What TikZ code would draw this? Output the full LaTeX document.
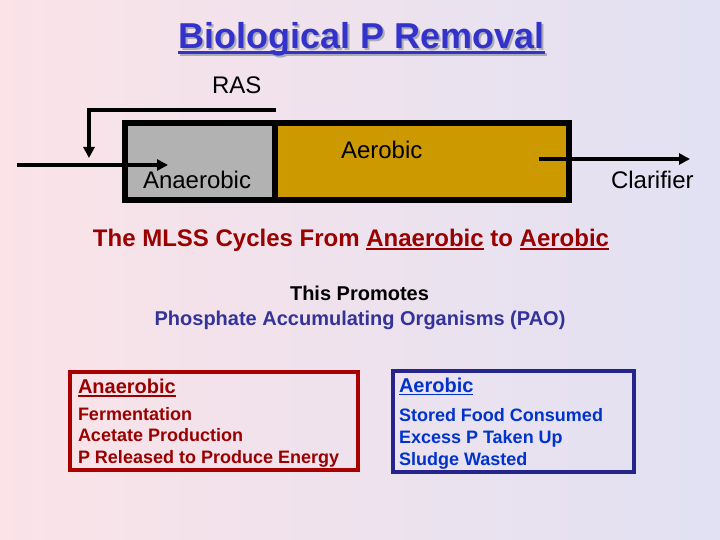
\documentclass[tikz,border=0pt]{standalone}
\usepackage{fontspec}
\setmainfont{Liberation Sans}
\usepackage{tikz}
\usetikzlibrary{arrows.meta,positioning}
\definecolor{bpleft}{HTML}{FBE3E8}
\definecolor{bpright}{HTML}{E1E1F3}
\definecolor{bptitle}{HTML}{3333CC}
\definecolor{bpshadow}{HTML}{ABABB4}
\definecolor{bpgrey}{HTML}{B2B2B2}
\definecolor{bpgold}{HTML}{CC9900}
\definecolor{bpred}{HTML}{990000}
\definecolor{bpredframe}{HTML}{A80000}
\definecolor{bpnavy}{HTML}{333399}
\definecolor{bpblue}{HTML}{0033CC}
\definecolor{bpframe}{HTML}{24248A}
% underline that sits just under the baseline (crosses descenders)
\newcommand{\ulword}[1]{\setbox0\hbox{#1}\rlap{\rule[-0.17em]{\wd0}{0.09em}}\box0\relax}

\begin{document}
\begin{tikzpicture}[x=1pt,y=-1pt,
  every node/.style={inner sep=0pt,outer sep=0pt},
  ttl/.style={font=\fontsize{36}{42}\selectfont\bfseries,anchor=base},
  lbl/.style={font=\fontsize{24}{29}\selectfont,anchor=base west},
  msg/.style={font=\fontsize{24}{29}\selectfont\bfseries,anchor=base},
  pao/.style={font=\fontsize{20}{24.5}\selectfont\bfseries,anchor=base},
  hdr/.style={font=\fontsize{20}{24}\selectfont\bfseries,anchor=base west},
  lst/.style={font=\fontsize{18}{21.7}\selectfont\bfseries,anchor=base west,align=left},
  tank/.style={draw=black,line width=5.5pt,minimum height=77pt,anchor=north west},
  frame/.style={line width=4pt,anchor=north west},
  pipe/.style={line width=4pt,-{Triangle[length=11pt,width=11pt]}}]
\useasboundingbox (0,0) rectangle (720,540);
\shade[left color=bpleft,right color=bpright] (0,0) rectangle (720,540);

% title with its shadow
\node[ttl,text=bpshadow] (titleshadow) at (363.5,50.3) {\ulword{Biological P Removal}};
\node[ttl,text=bptitle] (title) at (361.5,48.3) {\ulword{Biological P Removal}};

% the basin
\node[tank,fill=bpgrey,minimum width=150pt] (anatank) at (125,123) {};
\node[tank,fill=bpgold,minimum width=294pt] (aertank) at (275,123) {};

\node[lbl] (raslbl) at (212,93.3) {RAS};
\node[lbl] (analbl) at (143,188.3) {Anaerobic};
\node[lbl] (aerlbl) at (341,158.3) {Aerobic};
\node[lbl] (clarlbl) at (611,188.3) {Clarifier};

% flows
\coordinate (feed) at (17,165);
\coordinate (feedend) at (168,165);
\coordinate (rasfrom) at (276,110.5);
\coordinate (rasto) at (89,158);
\coordinate (effl) at (539,159);
\coordinate (efflend) at (690,159);
\draw[pipe] (feed) -- (feedend);
\draw[pipe] (rasfrom) -| (rasto);
\draw[pipe] (effl) -- (efflend);

\node[msg,text=bpred] (cycle) at (351,246)
  {The MLSS Cycles From \ulword{Anaerobic} to \ulword{Aerobic}};
\node[pao] (promo) at (359.5,300.5) {This Promotes};
\node[pao,text=bpnavy] (paoline) at (360,325) {Phosphate Accumulating Organisms (PAO)};

% the two phases (list anchored on its last line)
\node[frame,draw=bpredframe,minimum width=288pt,minimum height=98.5pt] (anabox) at (69.5,371.5) {};
\node[hdr,text=bpred] (anahdr) at (78,393.3) {\ulword{Anaerobic}};
\node[lst,text=bpred] (analist) at (78,463.5)
  {Fermentation\\Acetate Production\\P Released to Produce Energy};

\node[frame,draw=bpframe,minimum width=241.5pt,minimum height=101.5pt] (aerbox) at (392.5,370.5) {};
\node[hdr,text=bpblue] (aerhdr) at (399,392) {\ulword{Aerobic}};
\node[lst,text=bpblue] (aerlist) at (399,465)
  {Stored Food Consumed\\Excess P Taken Up\\Sludge Wasted};
\end{tikzpicture}
\end{document}
